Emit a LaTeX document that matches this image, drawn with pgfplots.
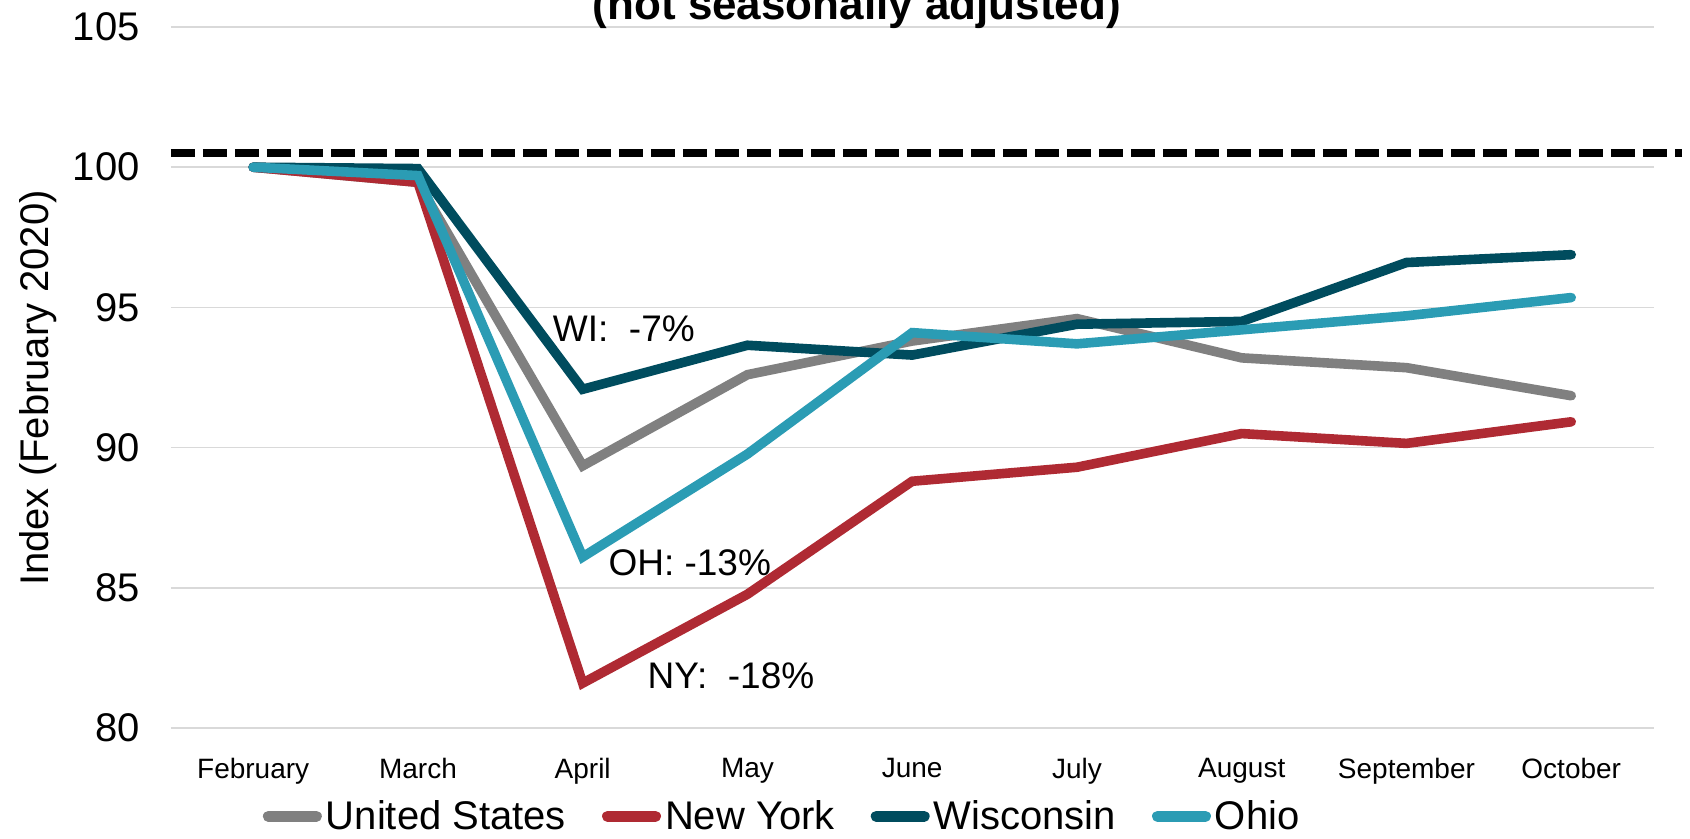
\documentclass[border=0pt]{standalone}
\usepackage{fontspec}
\setmainfont{Liberation Sans}
\usepackage{pgfplots}
\pgfplotsset{compat=1.18}
\definecolor{usgray}{HTML}{808080}
\definecolor{nyred}{HTML}{AF2A33}
\definecolor{widark}{HTML}{004C5E}
\definecolor{ohteal}{HTML}{2B9CB4}

\begin{document}
\begin{tikzpicture}
\begin{axis}[
  at={(0,0)}, anchor=south west, scale only axis,
  width=741.4pt, height=350.5pt,
  xmin=-0.5, xmax=8.5, ymin=80, ymax=105,
  ytick={80,85,...,105}, xtick={0,...,8},
  xticklabels={February,March,April,May,June,July,August,September,October},
  ymajorgrids, grid style={draw=black!15, line width=0.8pt},
  axis line style={draw=none}, major tick length=0pt,
  tick label style={/pgf/number format/assume math mode=true},
  yticklabel style={font=\fontsize{20}{24}\selectfont, xshift=-12pt},
  xticklabel style={font=\fontsize{14}{17}\selectfont, yshift=-11.5pt},
  ylabel={Index (February 2020)},
  ylabel style={at={(axis description cs:-0.0897,0.485)}, anchor=center, font=\fontsize{20}{24}\selectfont},
  clip=false,
  legend columns=4,
  legend style={at={(axis description cs:0.413,-0.126)}, anchor=center, draw=none, fill=none,
    font=\fontsize{20}{24}\selectfont,
    /tikz/every even column/.append style={column sep=16pt}},
  legend image code/.code={\draw[#1, line width=5.4pt, line cap=round] (2.7pt,0pt) -- (26.8pt,0pt);},
  every axis plot/.append style={line width=4.8pt, line cap=round},
]
\addplot[black, line width=4pt, line cap=butt, dash pattern=on 12pt off 4pt, forget plot]
  coordinates {(-0.5,100.51) (8.67,100.51)};
\addplot[usgray] coordinates {(0,100) (1,99.46) (2,89.35) (3,92.6) (4,93.8) (5,94.6) (6,93.2) (7,92.85) (8,91.85)};
\addplot[nyred] coordinates {(0,100) (1,99.46) (2,81.6) (3,84.77) (4,88.8) (5,89.3) (6,90.5) (7,90.15) (8,90.92)};
\addplot[widark] coordinates {(0,100) (1,99.95) (2,92.08) (3,93.65) (4,93.3) (5,94.4) (6,94.5) (7,96.6) (8,96.88)};
\addplot[ohteal] coordinates {(0,100) (1,99.7) (2,86.1) (3,89.77) (4,94.1) (5,93.7) (6,94.2) (7,94.7) (8,95.35)};
\legend{United States,New York,Wisconsin,Ohio}
\node[font=\fontsize{18.5}{22}\selectfont] at (axis cs:2.25,94.23) {WI:\ \ -7\%};
\node[font=\fontsize{18.5}{22}\selectfont] at (axis cs:2.65,85.88) {OH: -13\%};
\node[font=\fontsize{18.5}{22}\selectfont] at (axis cs:2.9,81.85) {NY:\ \ -18\%};
\end{axis}
\node[font=\bfseries\fontsize{22}{26}\selectfont, anchor=base] at (343pt,354pt) {(not seasonally adjusted)};
\pgfresetboundingbox
\path[use as bounding box] (-85.4pt,-55.5pt) rectangle (759.6pt,364pt);
\end{tikzpicture}
\end{document}
